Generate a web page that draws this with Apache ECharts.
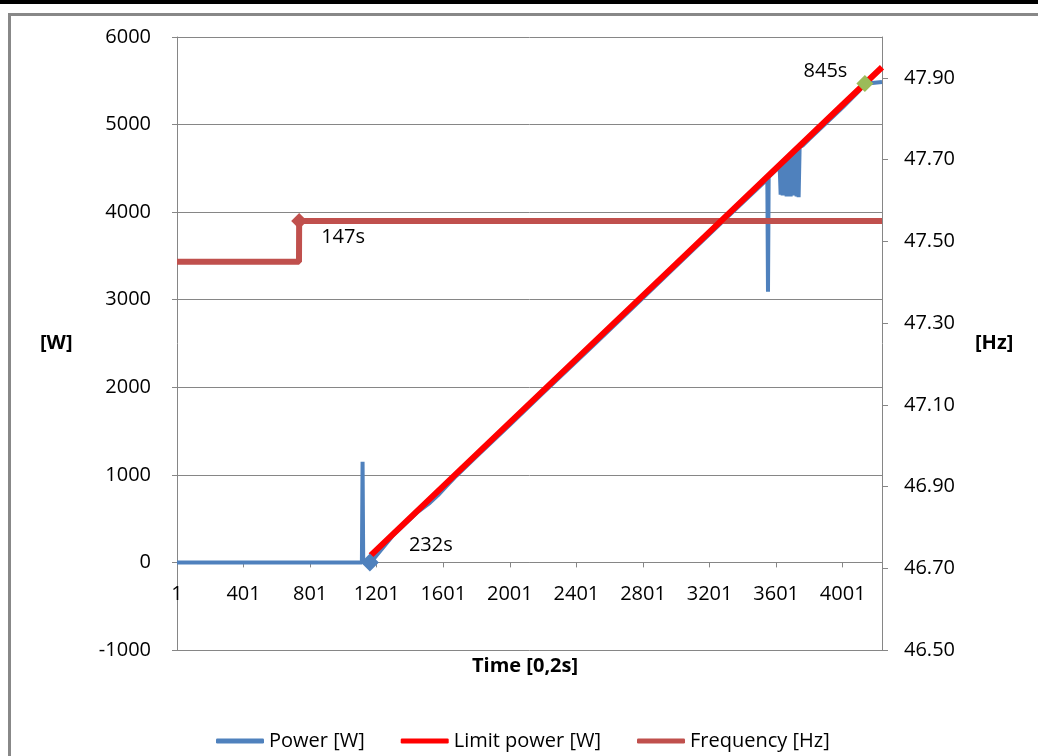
<!DOCTYPE html>
<html>
<head>
<meta charset="utf-8">
<script src="https://cdn.jsdelivr.net/npm/echarts@6/dist/echarts.min.js"></script>
<style>
html,body{margin:0;padding:0;background:#fff;}
#chart{width:1038px;height:756px;}
</style>
</head>
<body>
<div id="chart"></div>
<script>
// ---- data (sample number = 0,2 s steps) ----
const xTickLabels = [1, 401, 801, 1201, 1601, 2001, 2401, 2801, 3201, 3601, 4001];
const hzTickLabels = [46.5, 46.7, 46.9, 47.1, 47.3, 47.5, 47.7, 47.9];

const powerSample = [1, 1112, 1116, 1120, 1165, 1300, 1450, 1520, 1570, 1620, 1680, 1800, 2000, 2200, 2500, 2800, 3000, 3300, 3540, 3548, 3552, 3556, 3600, 3622,
  3628, 3634, 3640, 3646, 3652, 3658, 3664, 3670, 3676, 3682, 3688, 3694, 3700, 3706, 3712, 3718, 3724, 3730, 3736, 3742,
  3760, 3800, 3900, 4000, 4100, 4134, 4237];
const powerW = [0, 0, 1150, 0, 0, 310, 580, 680, 770, 870, 990, 1210, 1570, 1935, 2475, 3020, 3385, 3930, 4360, 4390, 3090, 4400, 4480, 4530,
  4200, 4560, 4190, 4580, 4200, 4600, 4180, 4620, 4190, 4640, 4180, 4660, 4200, 4680, 4190, 4700, 4180, 4720, 4170, 4740,
  4760, 4835, 5015, 5195, 5385, 5465, 5485];

const limitSample = [1165, 2000, 3000, 4000, 4237];
const limitW = [80, 1596, 3410, 5226, 5655];

const freqSample = [1, 734, 735, 4237];
const freqHz = [47.45, 47.45, 47.55, 47.55];

const markerLabels = ['147s', '232s', '845s'];
const markerSample = [735, 1160, 4134];
const markerValue = [47.55, 0, 5470];

// ---- chart ----
const zip = (a, b) => a.map((v, i) => [v, b[i]]);
const font = 'Open Sans';
const txt = '#000';
const gray = '#868686';
const lbl = { show: true, fontSize: 20, color: '#000', fontFamily: font, textBorderWidth: 0 };

const chart = echarts.init(document.getElementById('chart'));
chart.setOption({
  animation: false,
  textStyle: { fontFamily: font },
  grid: { left: 177, right: 156, top: 37, bottom: 106 },
  legend: {
    left: 211, top: 726,
    itemWidth: 48, itemHeight: 5, itemGap: 36,
    icon: 'roundRect',
    textStyle: { fontFamily: font, fontSize: 20, color: txt },
    data: ['Power [W]', 'Limit power [W]', 'Frequency [Hz]']
  },
  xAxis: {
    type: 'value', min: 1, max: 4237, position: 'bottom', offset: -87.6,
    axisLine: { onZero: false, lineStyle: { color: gray, width: 1 } },
    axisTick: { show: true, length: 5, lineStyle: { color: gray }, customValues: xTickLabels },
    axisLabel: { customValues: xTickLabels, margin: 22, fontSize: 20, color: txt, fontFamily: font,
      formatter: v => String(v) },
    splitLine: { show: false }
  },
  yAxis: [{
    type: 'value', min: -1000, max: 6000, interval: 1000,
    axisLine: { show: true, lineStyle: { color: gray } },
    axisTick: { show: true, length: 5, lineStyle: { color: gray } },
    axisLabel: { margin: 26, fontSize: 20, color: txt, fontFamily: font, formatter: v => String(v) },
    splitLine: { show: true, lineStyle: { color: gray, width: 1 } }
  }, {
    type: 'value', min: 46.5, max: 48.0, position: 'right',
    axisLine: { show: true, lineStyle: { color: gray } },
    axisTick: { show: true, length: 6, lineStyle: { color: gray }, customValues: hzTickLabels },
    axisLabel: { customValues: hzTickLabels, margin: 22, fontSize: 20, color: txt, fontFamily: font,
      formatter: v => v.toFixed(2) },
    splitLine: { show: false }
  }],
  graphic: [
    { type: 'rect', shape: { x: 0, y: 0, width: 1038, height: 4 }, style: { fill: '#000' }, silent: true },
    { type: 'rect', shape: { x: 8, y: 13, width: 1030, height: 3 }, style: { fill: '#888' }, silent: true },
    { type: 'rect', shape: { x: 8, y: 13, width: 3, height: 743 }, style: { fill: '#888' }, silent: true },
    { type: 'text', left: 40, top: 333, style: { text: '[W]', font: 'bold 20px "Open Sans"', fill: txt } },
    { type: 'text', left: 975, top: 333, style: { text: '[Hz]', font: 'bold 20px "Open Sans"', fill: txt } },
    { type: 'text', left: 472, top: 656, style: { text: 'Time [0,2s]', font: 'bold 20px "Open Sans"', fill: txt } }
  ],
  series: [
    {
      name: 'Power [W]', type: 'line', yAxisIndex: 0, showSymbol: false,
      data: zip(powerSample, powerW),
      lineStyle: { color: '#4F81BD', width: 4 }, itemStyle: { color: '#4F81BD' }, z: 2
    },
    {
      name: 'Frequency [Hz]', type: 'line', yAxisIndex: 1, showSymbol: false,
      data: zip(freqSample, freqHz),
      lineStyle: { color: '#C0504D', width: 6 }, itemStyle: { color: '#C0504D' }, z: 3
    },
    {
      name: 'Limit power [W]', type: 'line', yAxisIndex: 0, showSymbol: false,
      data: zip(limitSample, limitW),
      lineStyle: { color: '#FF0000', width: 6 }, itemStyle: { color: '#FF0000' }, z: 4
    },
    {
      name: 'm147', type: 'scatter', yAxisIndex: 1, symbol: 'diamond', symbolSize: 16, z: 5,
      itemStyle: { color: '#C0504D', opacity: 1 },
      data: [[markerSample[0], markerValue[0]]],
      label: Object.assign({}, lbl, { formatter: markerLabels[0], position: 'right', offset: [9, 16] })
    },
    {
      name: 'm232', type: 'scatter', yAxisIndex: 0, symbol: 'diamond', symbolSize: 18, z: 5,
      itemStyle: { color: '#4F81BD', opacity: 1 },
      data: [[markerSample[1], markerValue[1]]],
      label: Object.assign({}, lbl, { formatter: markerLabels[1], position: 'right', offset: [25, -17] })
    },
    {
      name: 'm845', type: 'scatter', yAxisIndex: 0, symbol: 'diamond', symbolSize: 17, z: 6,
      itemStyle: { color: '#9BBB59', opacity: 1 },
      data: [[markerSample[2], markerValue[2]]],
      label: Object.assign({}, lbl, { formatter: markerLabels[2], position: 'left', offset: [-4, -12] })
    }
  ]
});
</script>
</body>
</html>
